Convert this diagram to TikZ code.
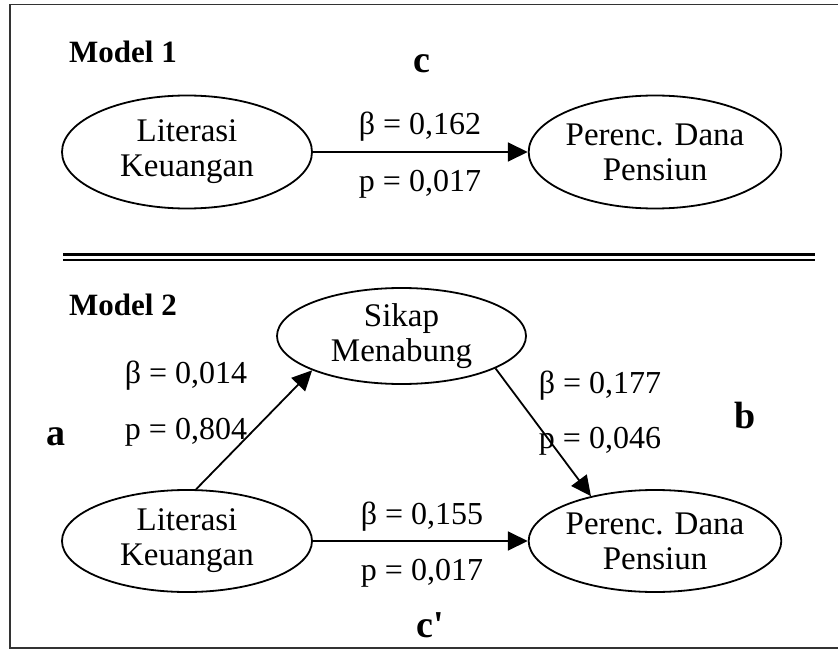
\documentclass[tikz,border=0pt]{standalone}
\usepackage{fontspec}
\setmainfont{Liberation Serif}
\newfontfamily\straightfont{Liberation Serif}[Ligatures=TeXOff]
\usetikzlibrary{shapes.geometric,arrows.meta}
\begin{document}
\begin{tikzpicture}[x=1pt,y=-1pt,
  var/.style={ellipse,draw,line width=1.8pt,minimum width=250pt,inner sep=0pt,align=center,
    font=\fontsize{33}{35}\selectfont},
  lbl/.style={font=\fontsize{32}{34}\selectfont,inner sep=0pt},
  ttl/.style={font=\fontsize{31}{34}\selectfont\bfseries,inner sep=0pt},
  big/.style={font=\fontsize{38}{40}\selectfont\bfseries,inner sep=0pt},
  conn/.style={line width=1.8pt,-{Triangle[length=20pt,width=19pt]}}]
\useasboundingbox (0,0) rectangle (838,650);
% frame
\draw[line width=1.6pt,black!80] (850,4.5) -- (10,4.5) -- (10,648) -- (850,648);
% double separator
\draw[line width=2.6pt] (63,254.5) -- (815,254.5);
\draw[line width=2.6pt] (63,260) -- (815,260);
% Model 1
\node[ttl] (m1) at (123,52) {Model 1};
\node[big] (c) at (422,64) {c};
\node[var,minimum height=113pt] (L1) at (187,152) {Literasi\\Keuangan};
\node[var,minimum height=113pt,minimum width=248pt] (P1) at (655,152) {Perenc. Dana\\Pensiun};
\draw[conn] (L1) -- (P1);
\node[lbl] (b1) at (420,127) {β = 0,162};
\node[lbl] (p1) at (420,184) {p = 0,017};
% Model 2
\node[ttl] (m2) at (123,305) {Model 2};
\node[var,minimum height=96pt,minimum width=249pt] (S) at (401.5,336) {Sikap\\Menabung};
\node[var,minimum height=102pt] (L2) at (187,541) {Literasi\\Keuangan};
\node[var,minimum height=102pt,minimum width=248pt] (P2) at (655,541) {Perenc. Dana\\Pensiun};
\draw[conn] (L2.80) -- (S.201);
\draw[conn] (S.341) -- (P2.145);
\draw[conn] (L2) -- (P2);
\node[lbl] (ba) at (186,376) {β = 0,014};
\node[lbl] (pa) at (186,432) {p = 0,804};
\node[big] (a) at (56,437) {a};
\node[lbl] (bb) at (600,386) {β = 0,177};
\node[lbl] (pb) at (600,441) {p = 0,046};
\node[big] (b) at (745,415) {b};
\node[lbl] (bc) at (422,517) {β = 0,155};
\node[lbl] (pc) at (422,573) {p = 0,017};
\node[big] (cp) at (430,625) {\straightfont\bfseries c'};
\end{tikzpicture}
\end{document}
